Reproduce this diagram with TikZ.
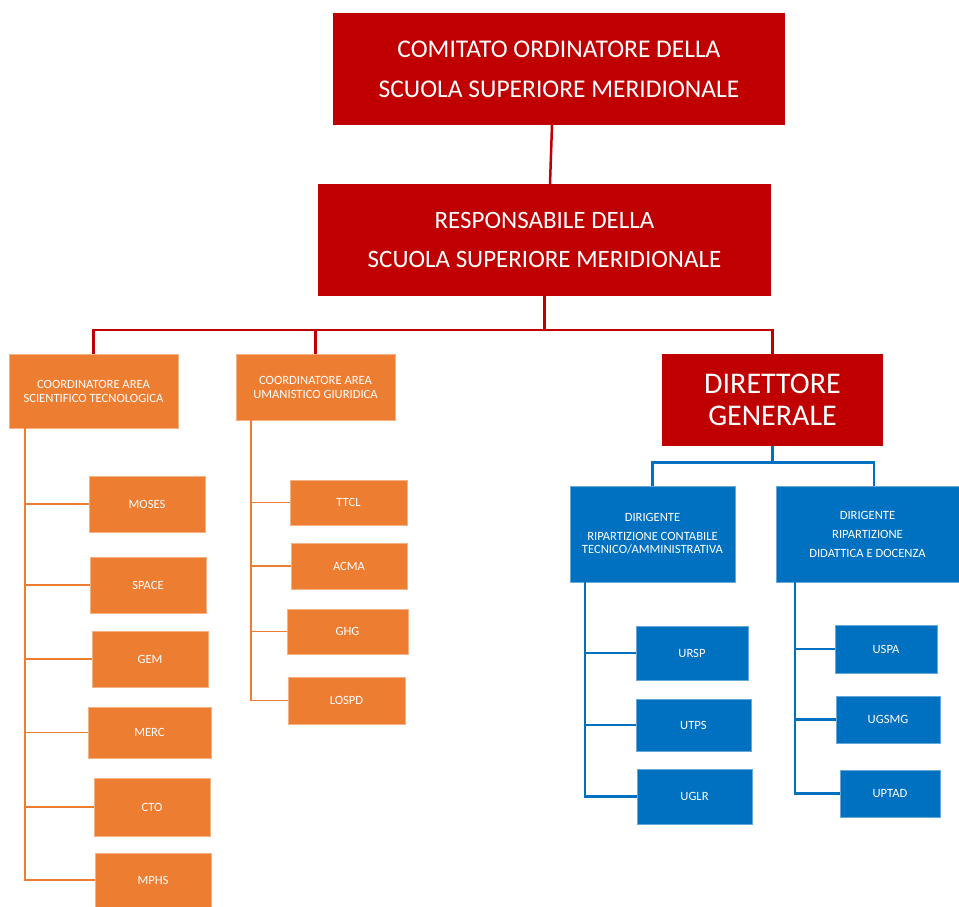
\documentclass[tikz,border=0pt]{standalone}
\usepackage{fontspec}
\setmainfont{Carlito}
\usepackage{tikz}
\usepackage{xcolor}
\usetikzlibrary{positioning}

\definecolor{ssmred}{HTML}{C00000}
\definecolor{ssmorange}{HTML}{ED7D31}
\definecolor{ssmblue}{HTML}{0070C0}

\begin{document}
\begin{tikzpicture}[
    x=1pt,
    y=-1pt,
    inner sep=0pt
]

\tikzstyle{redbox}=[
    rectangle,
    fill=ssmred,
    text=white,
    align=center
]
\tikzstyle{orangebox}=[
    rectangle,
    fill=ssmorange,
    draw=ssmorange!60!white,
    line width=0.6pt,
    text=white,
    align=center,
    font=\fontsize{12.6}{14}\selectfont
]
\tikzstyle{bluebox}=[
    rectangle,
    fill=ssmblue,
    draw=ssmblue!60!white,
    line width=0.6pt,
    text=white,
    align=center,
    font=\fontsize{12.6}{13}\selectfont
]
\tikzstyle{redline}=[draw=ssmred, line width=2.5pt]
\tikzstyle{orangeline}=[draw=ssmorange, line width=1.5pt]
\tikzstyle{blueline}=[draw=ssmblue, line width=2.8pt]

\useasboundingbox (0,0) rectangle (959,907);

% vertice
\node[redbox, minimum width=452, minimum height=112, font=\fontsize{25.5}{40}\selectfont]
    (comitato) at (559,69) {COMITATO ORDINATORE DELLA\\SCUOLA SUPERIORE MERIDIONALE};
\node[redbox, minimum width=453, minimum height=112, font=\fontsize{25}{39}\selectfont]
    (resp) at (544.5,240) {RESPONSABILE DELLA\\SCUOLA SUPERIORE MERIDIONALE};
\node[orangebox, minimum width=169, minimum height=74] (coordA) at (93.5,391)
    {COORDINATORE AREA\\SCIENTIFICO TECNOLOGICA};
\node[orangebox, minimum width=159, minimum height=66] (coordB) at (315.5,387)
    {COORDINATORE AREA\\UMANISTICO GIURIDICA};
\node[redbox, minimum width=221, minimum height=92, font=\fontsize{30}{32}\selectfont]
    (dg) at (772.5,400) {DIRETTORE\\GENERALE};

% area scientifico tecnologica
\node[orangebox, minimum width=116, minimum height=56] (moses) at (147,504) {MOSES};
\node[orangebox, minimum width=116, minimum height=56] (space) at (148,585) {SPACE};
\node[orangebox, minimum width=116, minimum height=56] (gem) at (150,659) {GEM};
\node[orangebox, minimum width=123, minimum height=51] (merc) at (149.5,732.5) {MERC};
\node[orangebox, minimum width=116, minimum height=58] (cto) at (152,807) {CTO};
\node[orangebox, minimum width=116, minimum height=54] (mphs) at (153,880) {MPHS};

% area umanistico giuridica
\node[orangebox, minimum width=117, minimum height=45] (ttcl) at (348.5,502.5) {TTCL};
\node[orangebox, minimum width=116, minimum height=46] (acma) at (349,566) {ACMA};
\node[orangebox, minimum width=121, minimum height=45] (ghg) at (347.5,631.5) {GHG};
\node[orangebox, minimum width=117, minimum height=47] (lospd) at (346.5,700.5) {LOSPD};

% dirigenti
\node[bluebox, minimum width=165, minimum height=96] (dirA) at (652.5,534)
    {DIRIGENTE\\[6pt]RIPARTIZIONE CONTABILE\\TECNICO/AMMINISTRATIVA};
\node[bluebox, minimum width=183, minimum height=96, font=\fontsize{12.6}{19}\selectfont]
    (dirB) at (867.5,534) {DIRIGENTE\\RIPARTIZIONE\\DIDATTICA E DOCENZA};
\node[bluebox, minimum width=112, minimum height=54] (ursp) at (692,653) {URSP};
\node[bluebox, minimum width=115, minimum height=52] (utps) at (693.5,725) {UTPS};
\node[bluebox, minimum width=115, minimum height=55] (uglr) at (694.5,796.5) {UGLR};
\node[bluebox, minimum width=102, minimum height=48] (uspa) at (886,649) {USPA};
\node[bluebox, minimum width=104, minimum height=47] (ugsmg) at (888,719.5) {UGSMG};
\node[bluebox, minimum width=100, minimum height=47] (uptad) at (890,793.5) {UPTAD};

% collegamenti
\draw[redline] ([xshift=-7pt]comitato.south) -- ([xshift=5.5pt]resp.north);
\draw[redline] (resp.south) -- ++(0,34) coordinate (busR);
\draw[redline] (coordA.north) |- (busR) -| (dg.north);
\draw[redline] (coordB.north) -- (coordB.north |- busR);

\coordinate (trunkA) at (25,428);
\draw[orangeline] (trunkA) |- (mphs.west);
\foreach \b in {moses,space,gem,merc,cto}
    \draw[orangeline] (trunkA |- \b.west) -- (\b.west);

\coordinate (trunkB) at (251,420);
\draw[orangeline] (trunkB) |- (lospd.west);
\foreach \b in {ttcl,acma,ghg}
    \draw[orangeline] (trunkB |- \b.west) -- (\b.west);

\draw[blueline] (dg.south) -- ++(0,16) coordinate (busB);
\draw[blueline] (dirA.north) |- (busB) -| ([xshift=6.5pt]dirB.north);

\coordinate (trunkC) at (585,582);
\draw[blueline] (trunkC) |- (uglr.west);
\foreach \b in {ursp,utps}
    \draw[blueline] (trunkC |- \b.west) -- (\b.west);

\coordinate (trunkD) at (795,582);
\draw[blueline] (trunkD) |- (uptad.west);
\foreach \b in {uspa,ugsmg}
    \draw[blueline] (trunkD |- \b.west) -- (\b.west);

\end{tikzpicture}
\end{document}
